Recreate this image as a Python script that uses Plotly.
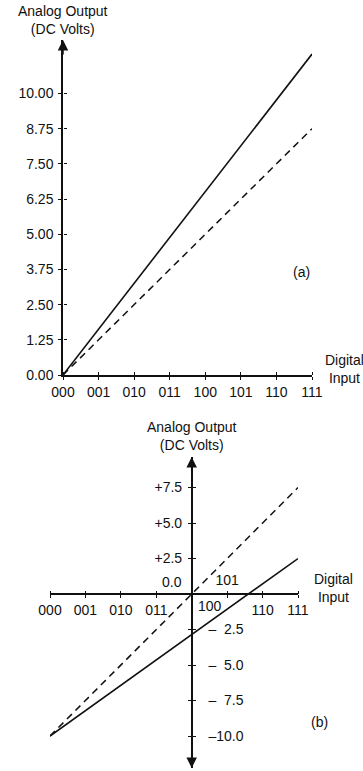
import plotly.graph_objects as go

# ---------------- data ----------------
codes = ["000", "001", "010", "011", "100", "101", "110", "111"]
code_idx = [0, 1, 2, 3, 4, 5, 6, 7]

# panel (a): unipolar
solid_a = [0.0, 1.63, 3.26, 4.89, 6.52, 8.15, 9.78, 11.4]
dashed_a = [0.0, 1.25, 2.5, 3.75, 5.0, 6.25, 7.5, 8.75]
ytick_a = [0.0, 1.25, 2.5, 3.75, 5.0, 6.25, 7.5, 8.75, 10.0]
ytext_a = ["0.00", "1.25", "2.50", "3.75", "5.00", "6.25", "7.50", "8.75", "10.00"]

# panel (b): bipolar
solid_b = [-10.0, -8.21, -6.43, -4.64, -2.86, -1.07, 0.71, 2.5]
dashed_b = [-10.0, -7.5, -5.0, -2.5, 0.0, 2.5, 5.0, 7.5]
ytick_b = [-10.0, -7.5, -5.0, -2.5, 2.5, 5.0, 7.5]
ytext_b_pos = ["", "", "", "", "+2.5", "+5.0", "+7.5"]
ytext_b_neg = ["\u201310.0", "\u2013\u00a0\u00a07.5", "\u2013\u00a0\u00a05.0", "\u2013\u00a0\u00a02.5", "", "", ""]
xtext_b_bottom = ["000", "001", "010", "011", "", "", "110", "111"]
xtext_b_top = ["", "", "", "", "", "101", "", ""]

# ---------------- layout constants ----------------
W, H = 363, 771
FONT = "Arial, Liberation Sans, Helvetica, sans-serif"
INK = "#111111"

xr_a = [0, 7]
yr_a = [0, 11.9]
xdom_a = [63 / W, 312 / W]
ydom_a = [1 - 375 / H, 1 - 40 / H]

xr_b = [0, 7]
yr_b = [-12.25, 9.65]
xdom_b = [50 / W, 298 / W]
ydom_b = [1 - 768 / H, 1 - 457 / H]
# positions where the crossing axes of (b) sit (value 0 on y, code 100 on x)
xaxis_pos_b = ydom_b[0] + (0 - yr_b[0]) / (yr_b[1] - yr_b[0]) * (ydom_b[1] - ydom_b[0])
yaxis_pos_b = xdom_b[0] + (4 - xr_b[0]) / (xr_b[1] - xr_b[0]) * (xdom_b[1] - xdom_b[0])

fig = go.Figure()

line_solid = dict(color=INK, width=1.6)
line_dash = dict(color=INK, width=1.5, dash="7px,5px")

fig.add_trace(go.Scatter(x=code_idx, y=solid_a, mode="lines", line=line_solid,
                         xaxis="x", yaxis="y", hoverinfo="skip", showlegend=False))
fig.add_trace(go.Scatter(x=code_idx, y=dashed_a, mode="lines", line=line_dash,
                         xaxis="x4", yaxis="y4", hoverinfo="skip", showlegend=False))
fig.add_trace(go.Scatter(x=code_idx, y=solid_b, mode="lines", line=line_solid,
                         xaxis="x2", yaxis="y2", hoverinfo="skip", showlegend=False))
fig.add_trace(go.Scatter(x=code_idx, y=dashed_b, mode="lines", line=line_dash,
                         xaxis="x3", yaxis="y3", hoverinfo="skip", showlegend=False))

tickfont = dict(family=FONT, size=14, color=INK)
common = dict(showgrid=False, zeroline=False, linecolor=INK, linewidth=1.5,
              tickcolor=INK, tickwidth=1.3, ticklen=3, ticks="outside",
              tickfont=tickfont, fixedrange=True, automargin=False)

fig.update_layout(
    template="none",
    width=W, height=H,
    margin=dict(l=0, r=0, t=0, b=0, pad=0, autoexpand=False),
    paper_bgcolor="white", plot_bgcolor="white",
    showlegend=False,
    font=dict(family=FONT, color=INK),
    # ---- panel (a)
    xaxis=dict(domain=xdom_a, range=xr_a, anchor="y", tickmode="array",
               tickvals=code_idx, ticktext=codes, showline=True, **common),
    yaxis=dict(domain=ydom_a, range=yr_a, anchor="x", tickmode="array",
               tickvals=ytick_a, ticktext=ytext_a, showline=True,
               ticklabelstandoff=2, **common),
    xaxis4=dict(overlaying="x", anchor="free", position=ydom_a[0], side="top",
                range=xr_a, tickmode="array", tickvals=code_idx,
                showticklabels=False, showline=False, **common),
    yaxis4=dict(overlaying="y", anchor="free", position=xdom_a[0], side="right",
                range=yr_a, tickmode="array", tickvals=ytick_a,
                showticklabels=False, showline=False, **common),
    # ---- panel (b)
    xaxis2=dict(domain=xdom_b, range=xr_b, anchor="free", position=xaxis_pos_b,
                side="bottom", tickmode="array", tickvals=code_idx,
                ticktext=xtext_b_bottom, showline=True, **common),
    xaxis3=dict(overlaying="x2", anchor="free", position=xaxis_pos_b, side="top",
                range=xr_b, tickmode="array", tickvals=code_idx,
                ticktext=xtext_b_top, showline=False, **common),
    yaxis2=dict(domain=ydom_b, range=yr_b, anchor="free", position=yaxis_pos_b,
                side="left", tickmode="array", tickvals=ytick_b,
                ticktext=ytext_b_pos, showline=True, ticklabelstandoff=3, **common),
    yaxis3=dict(overlaying="y2", anchor="free", position=yaxis_pos_b, side="right",
                range=yr_b, tickmode="array", tickvals=ytick_b,
                ticktext=ytext_b_neg, showline=False, ticklabelstandoff=10, **common),
)

lab = dict(family=FONT, size=14, color=INK)
small = dict(family=FONT, size=14, color=INK)
ann = []
# panel (a) annotations
ann += [
    dict(text="Analog Output<br>(DC Volts)", xref="x", yref="y", x=0, y=yr_a[1],
         yshift=20, showarrow=False, font=lab, xanchor="center", yanchor="middle",
         align="center"),
    dict(text="Digital<br>Input", xref="x", yref="y", x=7, y=0, xshift=32, yshift=6,
         showarrow=False, font=lab, xanchor="center", yanchor="middle", align="center"),
    dict(text="(a)", xref="x", yref="y", x=7, y=3.75, yshift=-3,
         showarrow=False, font=small, xanchor="right", yanchor="middle"),
    dict(text="", xref="x", yref="y", x=0, y=yr_a[1], ax=0, ay=16,
         showarrow=True, arrowhead=2, arrowsize=1.4, arrowwidth=1.5,
         arrowcolor=INK, standoff=0),
]
# panel (b) annotations
ann += [
    dict(text="Analog Output<br>(DC Volts)", xref="x2", yref="y2", x=4, y=yr_b[1],
         yshift=21, showarrow=False, font=lab, xanchor="center", yanchor="middle",
         align="center"),
    dict(text="Digital<br>Input", xref="x2", yref="y2", x=7, y=0, xshift=35, yshift=6,
         showarrow=False, font=lab, xanchor="center", yanchor="middle", align="center"),
    dict(text="0.0", xref="x2", yref="y2", x=4, y=0, xshift=-8, yshift=12,
         showarrow=False, font=small, xanchor="right", yanchor="middle"),
    dict(text="100", xref="x2", yref="y2", x=4, y=0, xshift=4, yshift=-12,
         showarrow=False, font=small, xanchor="left", yanchor="middle"),
    dict(text="(b)", xref="x2", yref="y2", x=7, y=-9, xshift=11,
         showarrow=False, font=small, xanchor="left", yanchor="middle"),
    dict(text="", xref="x2", yref="y2", x=4, y=yr_b[1], ax=0, ay=16,
         showarrow=True, arrowhead=2, arrowsize=1.4, arrowwidth=1.5,
         arrowcolor=INK, standoff=0),
    dict(text="", xref="x2", yref="y2", x=4, y=yr_b[0], ax=0, ay=-16,
         showarrow=True, arrowhead=2, arrowsize=1.4, arrowwidth=1.5,
         arrowcolor=INK, standoff=0),
]
fig.update_layout(annotations=ann)

fig.write_html("out.html", config={"displayModeBar": False})
